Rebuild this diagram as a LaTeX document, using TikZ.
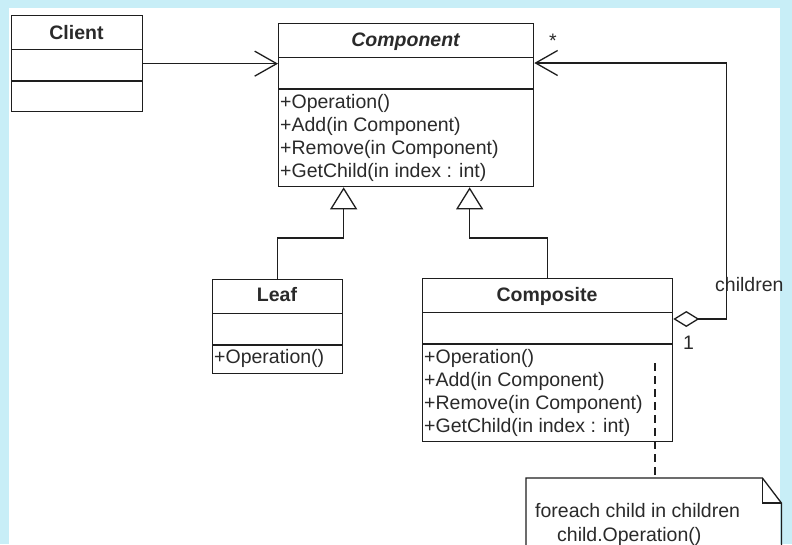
\documentclass[tikz,border=0pt]{standalone}
\usepackage{fontspec}
\setmainfont{Liberation Sans}
\usetikzlibrary{arrows.meta}
\definecolor{bgblue}{HTML}{C8EEF7}
\definecolor{ink}{HTML}{1E1E1E}
\definecolor{txt}{HTML}{2A2A2A}
\begin{document}
\begin{tikzpicture}[x=1pt,y=-1pt,
  umlbox/.style={draw=ink, line width=1.3pt, rectangle, inner sep=0pt, anchor=north west},
  sepline/.style={draw=ink, line width=1.3pt},
  lbl/.style={inner sep=0pt, text=txt, font=\fontsize{19.5}{23}\selectfont},
  hdr/.style={inner sep=0pt, text=txt, font=\fontsize{19.5}{23}\selectfont\bfseries, anchor=base},
  assoc/.style={draw=ink, line width=1.3pt, -{Straight Barb[length=22pt,width=25pt]}},
  gen/.style={draw=ink, line width=1.3pt, -{Triangle[open,length=22pt,width=27pt,fill=white]}},
  agg/.style={draw=ink, line width=1.3pt, {Diamond[open,length=26pt,width=16pt,fill=white]}-{Straight Barb[length=22pt,width=25pt]}},
  notedash/.style={draw=ink, line width=1.3pt, dash pattern=on 8pt off 5pt}
]
\clip (0,0) rectangle (792,544);
\fill[bgblue] (0,0) rectangle (792,544);
\fill[white] (9,8) rectangle (780,544);

% boxes
\node[umlbox, minimum width=131pt, minimum height=96pt] (client) at (11,15) {};
\node[umlbox, minimum width=255pt, minimum height=163pt] (comp) at (278,23) {};
\node[umlbox, minimum width=130pt, minimum height=94pt] (leaf) at (212,279) {};
\node[umlbox, minimum width=250pt, minimum height=163pt] (compo) at (422,278) {};

\foreach \n in {client,comp,leaf,compo}{
  \draw[sepline] ([yshift=-34.5pt]\n.north west) -- ([yshift=-34.5pt]\n.north east);
  \draw[sepline] ([yshift=-66pt]\n.north west) -- ([yshift=-66pt]\n.north east);
}

% headers
\node[hdr] (clientT) at (76.5,39) {Client};
\node[hdr, font=\fontsize{19.5}{23}\selectfont\bfseries\itshape] (compT) at (405.5,46) {Component};
\node[hdr] (leafT) at (277,301) {Leaf};
\node[hdr] (compoT) at (547,301) {Composite};

% operations
\node[lbl, anchor=base west] (c1) at (280,108) {+Operation()};
\node[lbl, anchor=base west] (c2) at (280,131) {+Add(in Component)};
\node[lbl, anchor=base west] (c3) at (280,154) {+Remove(in Component)};
\node[lbl, anchor=base west] (c4) at (280,177) {+GetChild(in index : int)};

\node[lbl, anchor=base west] (l1) at (214,363) {+Operation()};

\node[lbl, anchor=base west] (k1) at (424,363) {+Operation()};
\node[lbl, anchor=base west] (k2) at (424,386) {+Add(in Component)};
\node[lbl, anchor=base west] (k3) at (424,409) {+Remove(in Component)};
\node[lbl, anchor=base west] (k4) at (424,432) {+GetChild(in index : int)};

% note
\node[inner sep=0pt, minimum width=255pt, minimum height=90pt, anchor=north west] (note) at (526,478) {};
\draw[ink, line width=1.3pt] (note.south west) -- (note.north west) -- ([xshift=-19pt]note.north east)
  -- ([yshift=-25pt]note.north east) -- (note.south east);
\draw[ink, line width=1.3pt] ([xshift=-19pt]note.north east) |- ([yshift=-25pt]note.north east);
\node[lbl, anchor=base west] (n1) at (535,517) {foreach child in children};
\node[lbl, anchor=base west] (n2) at (557,541) {child.Operation()};

% connectors
\draw[assoc] (client.east) -- (client.east -| comp.west);
\draw[gen] (leaf.north) -- ++(0,-41) -| ([xshift=-62.5pt]comp.south);
\draw[gen] (compo.north) -- ++(0,-40) -| ([xshift=63.5pt]comp.south);
\draw[agg] ([yshift=-41pt]compo.north east) -- ++(53,0) |- ([yshift=-40pt]comp.north east);
\coordinate (dtop) at (655,363);
\draw[notedash] (dtop) -- (dtop |- note.north);

% association labels
\node[lbl, anchor=base] (star) at (553,47) {*};
\node[lbl, anchor=base west] (childrenL) at (715,291) {children};
\node[lbl, anchor=base] (oneL) at (688.5,349) {1};
\end{tikzpicture}
\end{document}
